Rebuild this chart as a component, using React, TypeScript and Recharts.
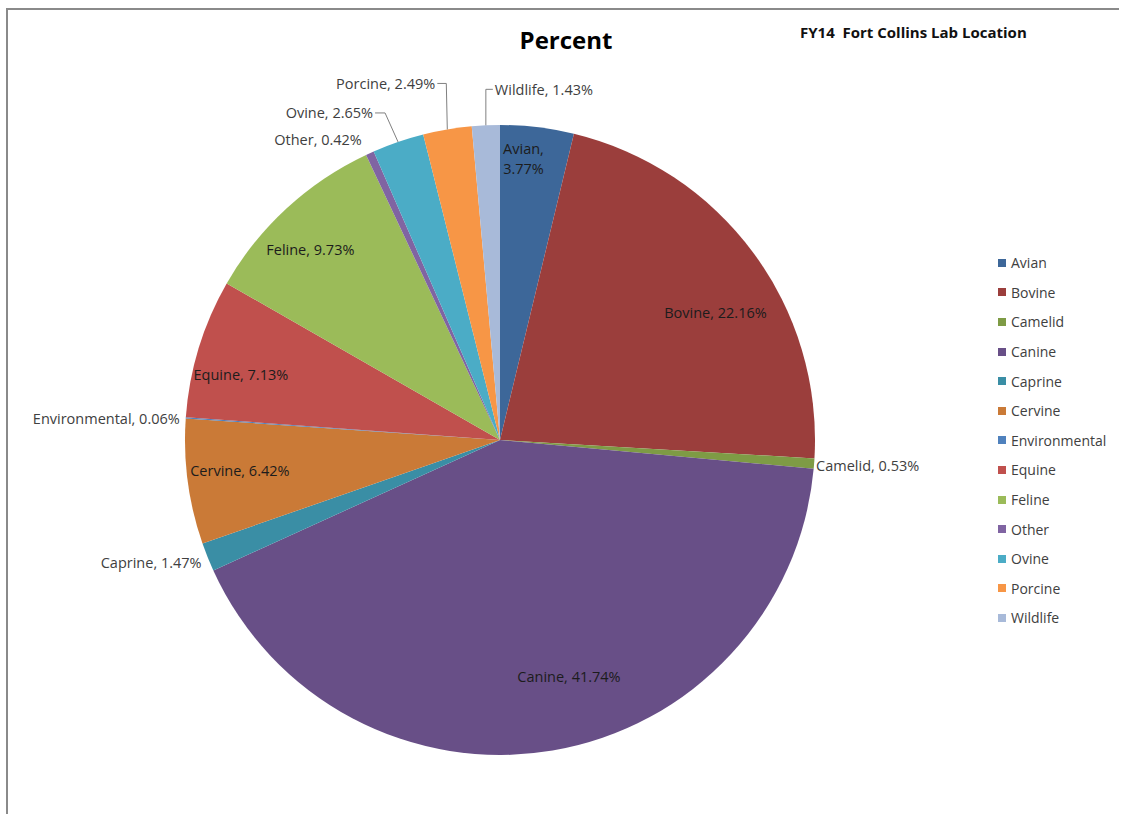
import { PieChart, Pie, Cell, Legend } from "recharts"

const categories = [
  "Avian",
  "Bovine",
  "Camelid",
  "Canine",
  "Caprine",
  "Cervine",
  "Environmental",
  "Equine",
  "Feline",
  "Other",
  "Ovine",
  "Porcine",
  "Wildlife",
]
const percents = [3.77, 22.16, 0.53, 41.74, 1.47, 6.42, 0.06, 7.13, 9.73, 0.42, 2.65, 2.49, 1.43]
const colors = [
  "#3D6799",
  "#9B3E3C",
  "#7E9B45",
  "#684F87",
  "#3A8EA5",
  "#CA7A37",
  "#4F81BD",
  "#C0504D",
  "#9BBB59",
  "#8064A2",
  "#4BACC6",
  "#F79646",
  "#A8BAD9",
]

const data = categories.map((name, i) => ({ name, value: percents[i] }))

const FONT = "'Open Sans', sans-serif"

type Place = {
  r: number
  dx: number
  dy: number
  anchor: "start" | "middle" | "end"
  inside?: boolean
  wrap?: boolean
  leader?: { ex: number; ey: number; len: number }
}

// where each data label sits, relative to the slice mid-angle
const placement: Record<string, Place> = {
  Avian: { r: 0.9, dx: -10, dy: 0, anchor: "middle", inside: true, wrap: true },
  Bovine: { r: 0.8, dx: 13, dy: 23, anchor: "middle", inside: true },
  Camelid: { r: 1, dx: 2, dy: 2, anchor: "start" },
  Canine: { r: 0.76, dx: 29, dy: 0, anchor: "middle", inside: true },
  Caprine: { r: 1, dx: -6, dy: 5, anchor: "end" },
  Cervine: { r: 0.83, dx: -1, dy: -4, anchor: "middle", inside: true },
  Environmental: { r: 1, dx: -6, dy: 1, anchor: "end" },
  Equine: { r: 0.86, dx: 0, dy: 14, anchor: "middle", inside: true },
  Feline: { r: 0.86, dx: -6, dy: 9, anchor: "middle", inside: true },
  Other: { r: 1, dx: -8, dy: -14, anchor: "end" },
  Ovine: { r: 1, dx: 0, dy: 0, anchor: "end", leader: { ex: -13, ey: -29, len: 10 } },
  Porcine: { r: 1, dx: 0, dy: 0, anchor: "end", leader: { ex: -1, ey: -46, len: 9 } },
  Wildlife: { r: 1, dx: 0, dy: 0, anchor: "start", leader: { ex: 0, ey: -36, len: 7 } },
}

const RAD = Math.PI / 180

function renderLabel(props: any) {
  const { cx, cy, midAngle, outerRadius, name, value } = props
  const p = placement[name]
  if (!p) return null
  const cos = Math.cos(-midAngle * RAD)
  const sin = Math.sin(-midAngle * RAD)
  const pct = `${Number(value).toFixed(2)}%`
  const fill = p.inside ? "#1c1c1c" : "#404040"
  const common = { fontFamily: FONT, fontSize: 14.5, fill, dominantBaseline: "central" as const }

  if (p.leader) {
    const px = cx + outerRadius * cos
    const py = cy + outerRadius * sin
    const ex = px + p.leader.ex
    const ey = py + p.leader.ey
    const dir = p.anchor === "end" ? -1 : 1
    const hx = ex + dir * p.leader.len
    return (
      <g>
        <polyline points={`${px},${py} ${ex},${ey} ${hx},${ey}`} fill="none" stroke="#808080" strokeWidth={1} />
        <text x={hx + dir * 2} y={ey} textAnchor={p.anchor} {...common}>
          {`${name}, ${pct}`}
        </text>
      </g>
    )
  }

  const x = cx + outerRadius * p.r * cos + p.dx
  const y = cy + outerRadius * p.r * sin + p.dy
  if (p.wrap) {
    return (
      <text x={x} y={y} textAnchor={p.anchor} {...common}>
        <tspan x={x} dy={-10}>{`${name},`}</tspan>
        <tspan x={x} dy={20}>{pct}</tspan>
      </text>
    )
  }
  return (
    <text x={x} y={y} textAnchor={p.anchor} {...common}>
      {`${name}, ${pct}`}
    </text>
  )
}

function LegendList(props: any) {
  const items = props.payload || []
  return (
    <div style={{ fontFamily: FONT, fontSize: 14, color: "#404040" }}>
      {items.map((it: any, i: number) => (
        <div key={it.value} style={{ height: 29.6, display: "flex", alignItems: "center" }}>
          <span
            style={{
              display: "inline-block",
              width: 8,
              height: 8,
              background: it.color || colors[i],
              marginRight: 5,
            }}
          />
          <span>{it.value}</span>
        </div>
      ))}
    </div>
  )
}

export default function App() {
  return (
    <div style={{ position: "fixed", left: 0, top: 0, width: 1121, height: 814, background: "#fff", overflow: "hidden" }}>
      <style>{"html, body { overflow: hidden; }"}</style>
      <div
        style={{
          position: "absolute",
          left: 6,
          top: 8,
          width: 1113,
          height: 806,
          borderLeft: "2px solid #8a8a8a",
          borderTop: "2px solid #8a8a8a",
          boxSizing: "border-box",
        }}
      />
      <div
        style={{
          position: "absolute",
          left: 366,
          width: 400,
          top: 23,
          textAlign: "center",
          fontFamily: FONT,
          fontWeight: 700,
          fontSize: 24,
          lineHeight: "34px",
          color: "#000",
        }}
      >
        Percent
      </div>
      <div
        style={{
          position: "absolute",
          left: 800,
          top: 21,
          fontFamily: FONT,
          fontWeight: 700,
          fontSize: 15,
          lineHeight: "22px",
          whiteSpace: "pre",
          color: "#111",
        }}
      >
        {"FY14  Fort Collins Lab Location"}
      </div>
      <div style={{ position: "absolute", left: 0, top: 0, width: 1121, height: 814 }}>
        <PieChart width={1121} height={814} margin={{ top: 0, right: 0, bottom: 0, left: 0 }}>
          <Pie
            data={data}
            dataKey="value"
            nameKey="name"
            cx={500}
            cy={440}
            outerRadius={315}
            startAngle={90}
            endAngle={-270}
            stroke="none"
            label={renderLabel}
            labelLine={false}
            isAnimationActive={false}
          >
            {data.map((d, i) => (
              <Cell key={d.name} fill={colors[i]} />
            ))}
          </Pie>
          <Legend
            content={<LegendList />}
            wrapperStyle={{ position: "absolute", left: 998, top: 248, width: 115 }}
          />
        </PieChart>
      </div>
    </div>
  )
}
